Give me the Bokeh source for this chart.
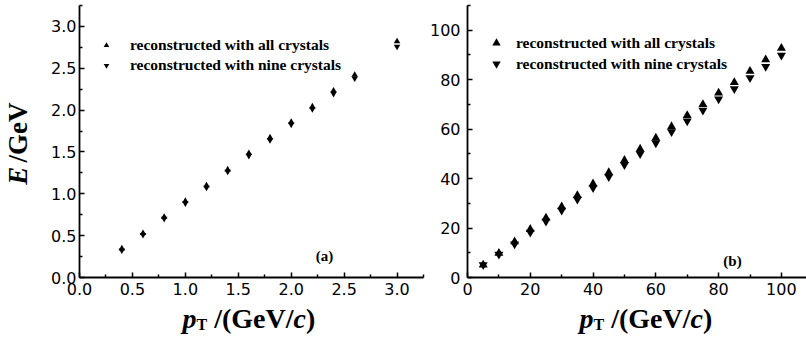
from bokeh.plotting import figure
from bokeh.layouts import row, column
from bokeh.models import FixedTicker, Legend, LegendItem, Label, Range1d
from bokeh.embed import file_html
from bokeh.resources import INLINE

# ---- panel (a): low transverse momentum ----
pt_a = [0.4, 0.6, 0.8, 1.0, 1.2, 1.4, 1.6, 1.8, 2.0, 2.2, 2.4, 2.6, 3.0]
e_all_a = [0.345, 0.53, 0.723, 0.913, 1.10, 1.29, 1.485, 1.672, 1.859, 2.042, 2.232, 2.42, 2.82]
e_nine_a = [0.325, 0.51, 0.703, 0.888, 1.075, 1.266, 1.455, 1.642, 1.829, 2.012, 2.197, 2.38, 2.76]

# ---- panel (b): high transverse momentum ----
pt_b = [5, 10, 15, 20, 25, 30, 35, 40, 45, 50, 55, 60, 65, 70, 75, 80, 85, 90, 95, 100]
e_all_b = [5.1, 9.85, 14.45, 19.5, 24.1, 28.65, 33.2, 37.9, 42.45, 47.4,
           51.95, 56.4, 61.05, 65.55, 70.0, 74.65, 78.9, 83.45, 88.1, 92.75]
e_nine_b = [5.1, 9.35, 13.55, 18.3, 22.7, 27.15, 31.6, 36.3, 40.75, 45.6,
            50.05, 54.4, 58.95, 63.25, 67.6, 72.15, 76.3, 80.75, 85.3, 89.85]

# tick positions and labels
ticks_a = [0.0, 0.5, 1.0, 1.5, 2.0, 2.5, 3.0]
tick_labels_a = ["0.0", "0.5", "1.0", "1.5", "2.0", "2.5", "3.0"]
minor_a = [0.25, 0.75, 1.25, 1.75, 2.25, 2.75, 3.25]
xticks_b = [0, 20, 40, 60, 80, 100]
xtick_labels_b = ["0", "20", "40", "60", "80", "100"]
xminor_b = [10, 30, 50, 70, 90]
yticks_b = [0, 20, 40, 60, 80, 100]
ytick_labels_b = ["0", "20", "40", "60", "80", "100"]
yminor_b = [10, 30, 50, 70, 90, 110]

legend_labels = ["reconstructed with all crystals", "reconstructed with nine crystals"]
panel_tags = ["(a)", "(b)"]

SERIF = "Liberation Serif"
SANS = "DejaVu Sans"

# layout geometry (pixels)
TOP_H = 302          # height of the plotting row
BOT_H = 339 - TOP_H  # strip under the plots that holds the x titles
YT_W = 38            # strip left of panel (a) that holds the y title
WA = 425 - YT_W
WB = 806 - 425
BORDER_BOTTOM = 25   # x axis line sits at TOP_H - BORDER_BOTTOM = 277


def style_axis(ax, ticks, labels, minor, standoff):
    ax.ticker = FixedTicker(ticks=ticks, minor_ticks=minor)
    ax.major_label_overrides = {t: s for t, s in zip(ticks, labels)}
    ax.axis_line_width = 1.8
    ax.axis_line_color = "black"
    ax.major_tick_in = 5
    ax.major_tick_out = 0
    ax.minor_tick_in = 3
    ax.minor_tick_out = 0
    ax.major_tick_line_width = 1.5
    ax.minor_tick_line_width = 1.5
    ax.major_tick_line_color = "black"
    ax.minor_tick_line_color = "black"
    ax.major_label_text_font = SANS
    ax.major_label_text_font_size = "16px"
    ax.major_label_text_color = "black"
    ax.major_label_standoff = standoff
    ax.axis_label = None


def make_fig(width, left, right, xr, yr):
    p = figure(width=width, height=TOP_H, output_backend="svg", toolbar_location=None,
               x_range=Range1d(*xr), y_range=Range1d(*yr),
               min_border_left=left, min_border_right=right,
               min_border_top=5, min_border_bottom=BORDER_BOTTOM)
    p.outline_line_color = None
    p.xgrid.visible = False
    p.ygrid.visible = False
    p.background_fill_color = "white"
    p.border_fill_color = "white"
    return p


def text_strip(width, height):
    # a bare canvas whose data units are pixels, used for the axis titles
    p = figure(width=width, height=height, output_backend="svg", toolbar_location=None,
               x_range=Range1d(0, width), y_range=Range1d(0, height),
               x_axis_type=None, y_axis_type=None,
               min_border=0, min_border_left=0, min_border_right=0,
               min_border_top=0, min_border_bottom=0)
    p.outline_line_color = None
    p.xgrid.visible = False
    p.ygrid.visible = False
    p.background_fill_color = "white"
    p.border_fill_color = "white"
    return p


def put(p, x, y, text, size, style, angle=0.0, align="left"):
    p.add_layout(Label(x=x, y=y, text=text, text_font=SERIF, text_font_size=f"{size}px",
                       text_font_style=style, text_color="black", angle=angle,
                       text_align=align, text_baseline="middle"))


def x_title(p, x0, mid):
    # p_T /(GeV/c) assembled from pieces; x advances use Times metrics
    s = 28
    sub = 16
    put(p, x0, mid, "p", s, "bold italic")
    x = x0 + 0.500 * s
    put(p, x, mid - 6, "T", sub, "bold")
    x += 0.667 * sub
    x += 0.250 * s
    put(p, x, mid, "/(GeV/", s, "bold")
    x += (0.278 + 0.333 + 0.778 + 0.444 + 0.722 + 0.278) * s
    put(p, x, mid, "c", s, "bold italic")
    x += 0.444 * s
    put(p, x, mid, ")", s, "bold")


def add_legend(p, r_up, r_down, loc, gw, gh, standoff):
    leg = Legend(items=[LegendItem(label=legend_labels[0], renderers=[r_up]),
                        LegendItem(label=legend_labels[1], renderers=[r_down])],
                 location=loc, orientation="vertical",
                 glyph_width=gw, glyph_height=gh, label_height=gh,
                 label_standoff=standoff, spacing=0, padding=0, margin=0,
                 border_line_alpha=0, background_fill_alpha=0,
                 label_text_font=SERIF, label_text_font_style="bold",
                 label_text_font_size="15.5px", label_text_color="black")
    p.add_layout(leg)


def tag(p, x_px, y_px, text):
    # panel tag placed in frame pixels (x from frame left, y up from the x axis)
    p.add_layout(Label(x=x_px, y=y_px, x_units="screen", y_units="screen",
                       text=text, text_font=SERIF, text_font_size="15px",
                       text_font_style="bold", text_color="black",
                       text_align="center", text_baseline="middle"))


# ---------------- panel (a) ----------------
LEFT_A = 79 - YT_W
pa = make_fig(WA, LEFT_A, 2, (0, 3.25), (0, 3.25))
style_axis(pa.xaxis[0], ticks_a, tick_labels_a, minor_a, 5)
style_axis(pa.yaxis[0], ticks_a, tick_labels_a, minor_a, 3)
ra_up = pa.scatter(pt_a, e_all_a, marker="triangle", size=6.5, fill_color="black", line_color=None)
ra_dn = pa.scatter(pt_a, e_nine_a, marker="inverted_triangle", size=6.5, fill_color="black", line_color=None)
add_legend(pa, ra_up, ra_dn, (20, 202), 14, 20, 17)
tag(pa, 324 - 79, 277 - 255, panel_tags[0])

# ---------------- panel (b) ----------------
LEFT_B = 42
pb = make_fig(WB, LEFT_B, 0, (0, 108), (0, 110))
style_axis(pb.xaxis[0], xticks_b, xtick_labels_b, xminor_b, 5)
style_axis(pb.yaxis[0], yticks_b, ytick_labels_b, yminor_b, 7)
rb_up = pb.scatter(pt_b, e_all_b, marker="triangle", size=9, fill_color="black", line_color=None)
rb_dn = pb.scatter(pt_b, e_nine_b, marker="inverted_triangle", size=9, fill_color="black", line_color=None)
add_legend(pb, rb_up, rb_dn, (18, 203), 22, 21, 9)
tag(pb, 732 - 467, 277 - 260, panel_tags[1])

# ---------------- axis titles ----------------
yt = text_strip(YT_W, TOP_H)
Y_TITLE_START = 199  # page y where the rotated title begins (bottom end)
put(yt, 17.5, TOP_H - Y_TITLE_START, "E", 27, "bold italic", angle=1.5708)
put(yt, 17.5, TOP_H - Y_TITLE_START + (0.667 + 0.250) * 27, "/GeV", 27, "bold", angle=1.5708)

X_TITLE_MID = 339 - 318  # strip y of the x title centre line
xt_a = text_strip(425, BOT_H)
x_title(xt_a, 182, X_TITLE_MID)
xt_b = text_strip(WB, BOT_H)
x_title(xt_b, 579 - 425, X_TITLE_MID)

layout = column(row(yt, pa, pb, spacing=0), row(xt_a, xt_b, spacing=0), spacing=0)
open("out.html", "w").write(file_html(layout, INLINE))
